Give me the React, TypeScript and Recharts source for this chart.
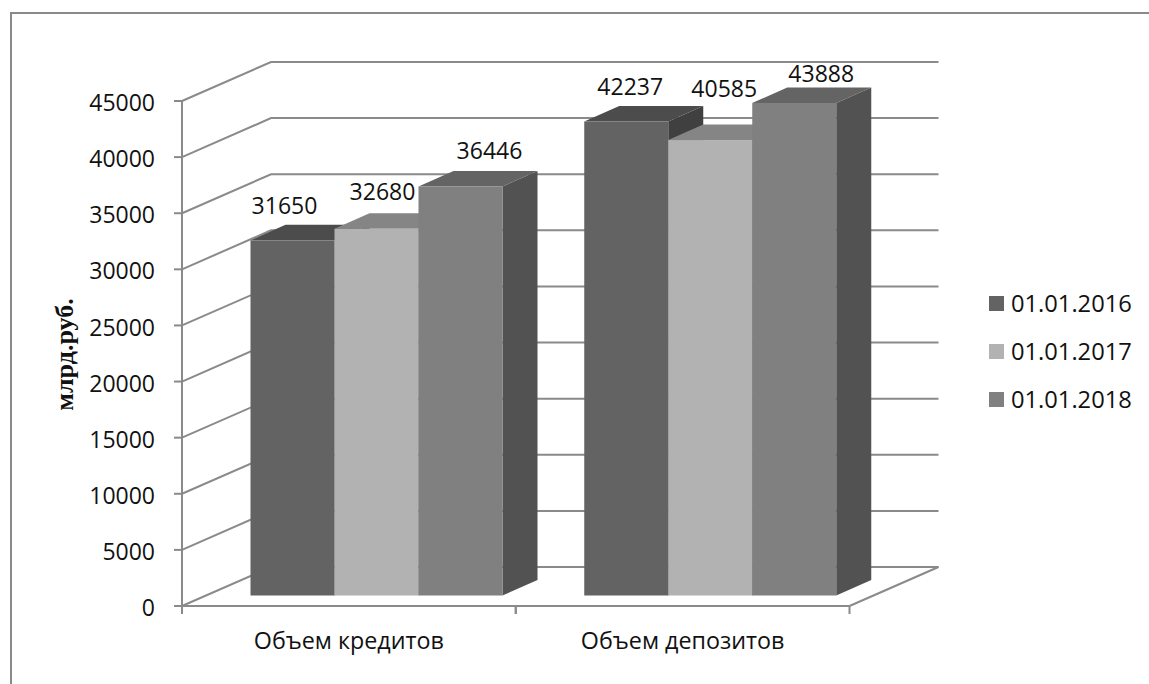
import { Bar, BarChart, CartesianGrid, LabelList, Legend, XAxis, YAxis } from "recharts";

const categories = ["Объем кредитов", "Объем депозитов"];
const values2016 = [31650, 42237];
const values2017 = [32680, 40585];
const values2018 = [36446, 43888];
const yTicks = [0, 5000, 10000, 15000, 20000, 25000, 30000, 35000, 40000, 45000];
const legendLabels = ["01.01.2016", "01.01.2017", "01.01.2018"];

const data = categories.map((name, i) => ({
  name,
  a: values2016[i],
  b: values2017[i],
  c: values2018[i],
}));

const WIDTH = 1149;
const HEIGHT = 684;
const PLOT_LEFT = 182;
const PLOT_RIGHT = 849.5;
const PLOT_TOP = 101;
const PLOT_BOTTOM = 606;
const LEGEND_W = 160;
const CATEGORY_W = (PLOT_RIGHT - PLOT_LEFT) / categories.length;

const FONT = "'Open Sans', sans-serif";
const AXIS = "#8a8a8a";

// fake 3D: how far the back wall sits from the front plane, and where bars stand on the floor
const WALL_DX = 89;
const WALL_DY = 39;
const BAR_SHIFT_X = 27.5;
const BAR_SHIFT_Y = 10.5;
const BAR_DEPTH_X = 35;
const BAR_DEPTH_Y = 15.5;

// the data labels were dragged by hand in the original, so each has its own nudge
const nudge2016 = [[-8, -35], [4, -36]];
const nudge2017 = [[6, -38], [14, -52]];
const nudge2018 = [[29, -36], [27, -30]];

function gridLine(props: any) {
  const { x1, x2, y1, index } = props;
  const backY = y1 - WALL_DY;
  const pts = `${x1},${y1} ${x1 + WALL_DX},${backY} ${x2 + WALL_DX},${backY}`;
  const isFloor = Math.abs(y1 - PLOT_BOTTOM) < 1;
  return (
    <g key={index}>
      <polyline points={pts} fill="none" stroke={AXIS} strokeWidth={2} />
      {isFloor && <line x1={x2} y1={y1} x2={x2 + WALL_DX} y2={backY} stroke={AXIS} strokeWidth={2} />}
    </g>
  );
}

function box(top: string, side: string) {
  return (props: any) => {
    const { x, y, width, height, fill } = props;
    const l = x + BAR_SHIFT_X;
    const r = l + width;
    const t = y - BAR_SHIFT_Y;
    const b = t + height;
    const dx = BAR_DEPTH_X;
    const dy = BAR_DEPTH_Y;
    return (
      <g>
        <polygon points={`${r},${t} ${r + dx},${t - dy} ${r + dx},${b - dy} ${r},${b}`} fill={side} />
        <polygon points={`${l},${t} ${l + dx},${t - dy} ${r + dx},${t - dy} ${r},${t}`} fill={top} />
        <rect x={l} y={t} width={width} height={height} fill={fill} />
      </g>
    );
  };
}

function barLabel(nudges: number[][]) {
  return (props: any) => {
    const { x, y, width, value, index } = props;
    return (
      <text
        x={x + BAR_SHIFT_X + width / 2 + nudges[index][0]}
        y={y - BAR_SHIFT_Y + nudges[index][1]}
        textAnchor="middle"
        dominantBaseline="central"
        fontFamily={FONT}
        fontSize={23}
        fill="#111"
      >
        {value}
      </text>
    );
  };
}

function CategoryTick(props: any) {
  const { x, payload } = props;
  return (
    <g>
      <line x1={x - CATEGORY_W / 2} y1={PLOT_BOTTOM} x2={x - CATEGORY_W / 2} y2={PLOT_BOTTOM + 8} stroke={AXIS} strokeWidth={2} />
      <line x1={x + CATEGORY_W / 2} y1={PLOT_BOTTOM} x2={x + CATEGORY_W / 2} y2={PLOT_BOTTOM + 8} stroke={AXIS} strokeWidth={2} />
      <text x={x} y={PLOT_BOTTOM + 43} textAnchor="middle" fontFamily={FONT} fontSize={23.3} fill="#111">
        {payload.value}
      </text>
    </g>
  );
}

function LegendBox({ payload }: any) {
  return (
    <div style={{ fontFamily: FONT, fontSize: 23.7, color: "#111" }}>
      {payload.map((p: any) => (
        <div key={p.value} style={{ display: "flex", alignItems: "center", height: 48 }}>
          <span style={{ width: 15, height: 15, background: p.color, marginRight: 7 }} />
          {p.value}
        </div>
      ))}
    </div>
  );
}

export default function App() {
  return (
    <div style={{ position: "absolute", left: 0, top: 0, width: WIDTH, height: HEIGHT, overflow: "hidden", background: "#fff" }}>
      <div
        style={{
          position: "absolute",
          left: 10,
          top: 12,
          width: WIDTH,
          height: HEIGHT,
          borderLeft: "2px solid #8a8a8a",
          borderTop: "2px solid #8a8a8a",
        }}
      />
      <div style={{ position: "absolute", left: 0, top: 0 }}>
        <BarChart
          width={WIDTH}
          height={HEIGHT}
          data={data}
          barGap={0}
          barCategoryGap={41}
          margin={{ top: PLOT_TOP, right: WIDTH - PLOT_RIGHT - LEGEND_W, bottom: 0, left: 0 }}
        >
          <CartesianGrid horizontal={gridLine} vertical={false} />
          <XAxis
            dataKey="name"
            height={HEIGHT - PLOT_BOTTOM}
            interval={0}
            tick={<CategoryTick />}
            tickLine={false}
            axisLine={{ stroke: AXIS, strokeWidth: 2 }}
          />
          <YAxis
            width={PLOT_LEFT}
            domain={[0, 45000]}
            ticks={yTicks}
            interval={0}
            tickSize={8}
            tickMargin={19}
            tick={{ fontFamily: FONT, fontSize: 23, fill: "#111", dy: 2 }}
            tickLine={{ stroke: AXIS, strokeWidth: 2 }}
            axisLine={{ stroke: AXIS, strokeWidth: 2 }}
            label={{
              content: () => (
                <text
                  transform="translate(73,354.5) rotate(-90)"
                  textAnchor="middle"
                  fontFamily="'Liberation Serif', serif"
                  fontWeight="bold"
                  fontSize={26}
                  fill="#111"
                >
                  млрд.руб.
                </text>
              ),
            }}
          />
          <Legend
            layout="vertical"
            align="right"
            verticalAlign="top"
            content={<LegendBox />}
            wrapperStyle={{ left: 989, top: 279, width: LEGEND_W }}
          />
          <Bar dataKey="a" name={legendLabels[0]} fill="#636363" isAnimationActive={false} shape={box("#4c4c4c", "#404040")}>
            <LabelList dataKey="a" content={barLabel(nudge2016)} />
          </Bar>
          <Bar dataKey="b" name={legendLabels[1]} fill="#b2b2b2" isAnimationActive={false} shape={box("#858585", "#6e6e6e")}>
            <LabelList dataKey="b" content={barLabel(nudge2017)} />
          </Bar>
          <Bar dataKey="c" name={legendLabels[2]} fill="#808080" isAnimationActive={false} shape={box("#646464", "#525252")}>
            <LabelList dataKey="c" content={barLabel(nudge2018)} />
          </Bar>
        </BarChart>
      </div>
    </div>
  );
}
